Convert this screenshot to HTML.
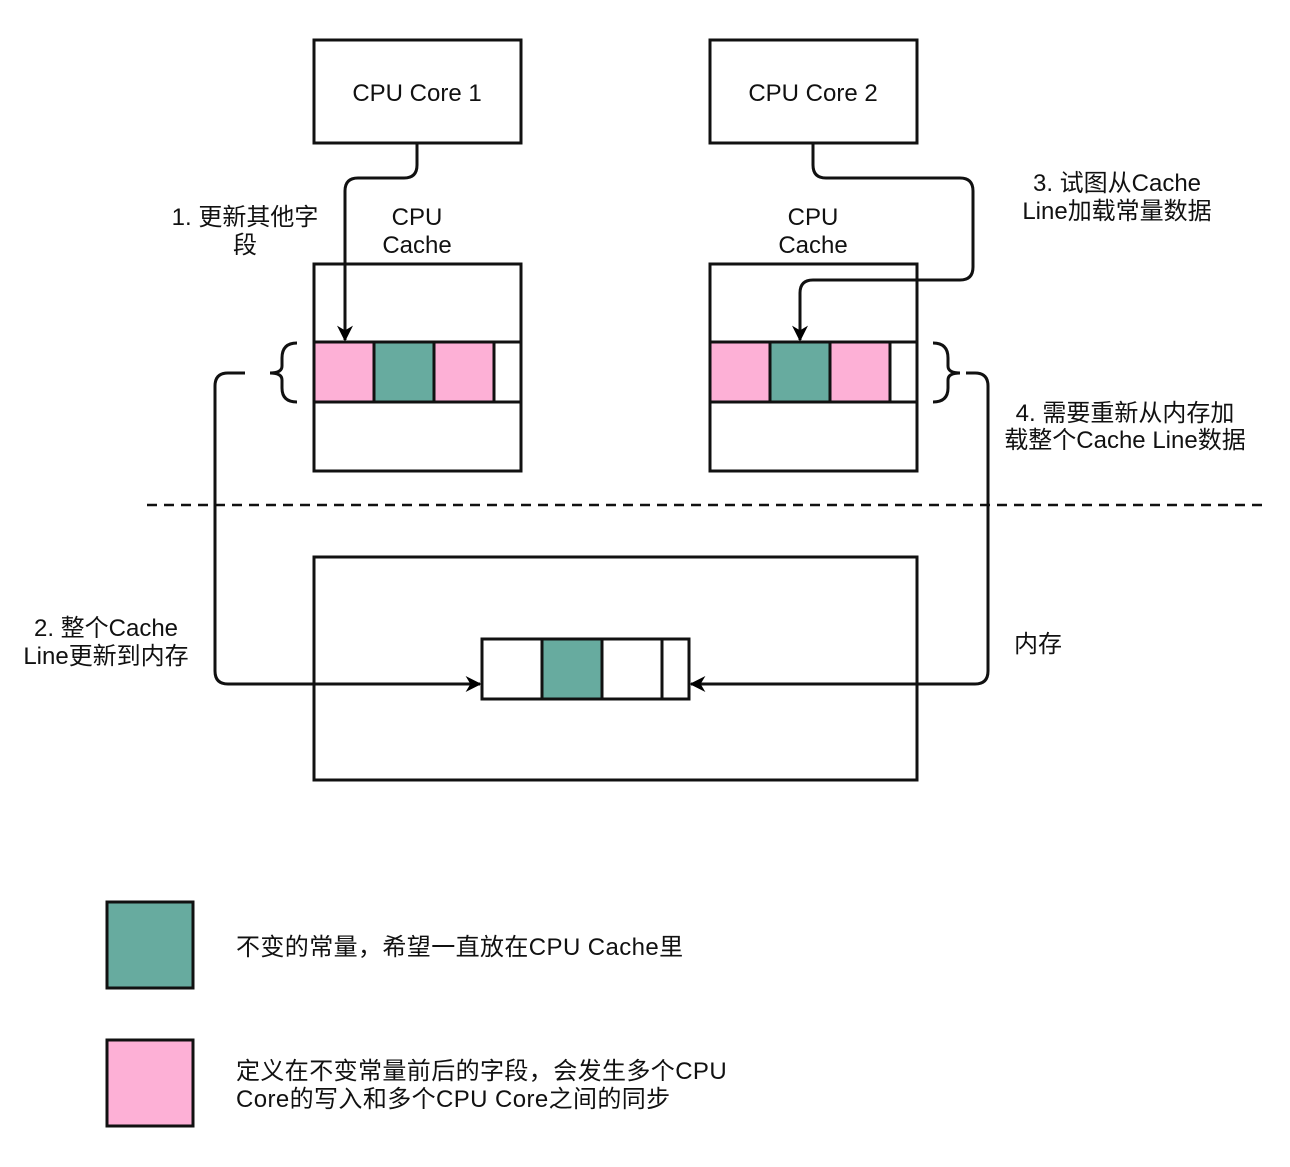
<!DOCTYPE html>
<html><head><meta charset="utf-8"><style>
body{margin:0;background:#fff;}
svg text{font-family:"Liberation Sans","Noto Sans CJK SC",sans-serif;font-size:24px;fill:#111;}
</style></head><body>
<svg width="1290" height="1162" xmlns="http://www.w3.org/2000/svg">
<defs>
<marker id="b" viewBox="0 0 10 10" markerWidth="16" markerHeight="16" refX="9" refY="5" orient="auto" markerUnits="userSpaceOnUse"><path d="M0,0 L10,5 L0,10 L3,5 Z" fill="#000"/></marker></defs>
<g stroke="#111" stroke-width="3" fill="#fff">
<rect x="314" y="40" width="207" height="103"/>
<rect x="710" y="40" width="207" height="103"/>
<rect x="314" y="264" width="207" height="207"/>
<rect x="710" y="264" width="207" height="207"/>
<rect x="314" y="557" width="603" height="223"/>
<rect x="314" y="342" width="60" height="60" fill="#fdb0d6"/>
<rect x="374" y="342" width="60" height="60" fill="#67ab9f"/>
<rect x="434" y="342" width="60" height="60" fill="#fdb0d6"/>
<rect x="494" y="342" width="27" height="60"/>
<rect x="710" y="342" width="60" height="60" fill="#fdb0d6"/>
<rect x="770" y="342" width="60" height="60" fill="#67ab9f"/>
<rect x="830" y="342" width="60" height="60" fill="#fdb0d6"/>
<rect x="890" y="342" width="27" height="60"/>
<rect x="482" y="639" width="60" height="60"/>
<rect x="542" y="639" width="60" height="60" fill="#67ab9f"/>
<rect x="602" y="639" width="60" height="60"/>
<rect x="662" y="639" width="27" height="60"/>
<rect x="107" y="902" width="86" height="86" fill="#67ab9f"/>
<rect x="107" y="1040" width="86" height="86" fill="#fdb0d6"/>
</g>
<g stroke="#111" stroke-width="3" fill="none">
<path d="M417,143 V165 Q417,178 404,178 H358 Q345,178 345,191 V340" marker-end="url(#b)"/>
<path d="M813,143 V165 Q813,178 826,178 H960 Q973,178 973,191 V267 Q973,280 960,280 H813 Q800,280 800,293 V340" marker-end="url(#b)"/>
<path d="M297,343 Q282,343 282,358 V366 Q282,373 270,373 Q282,373 282,380 V388 Q282,402 297,402"/>
<path d="M245,373 H228 Q215,373 215,386 V671 Q215,684 228,684 H480" marker-end="url(#b)"/>
<path d="M933,343 Q948,343 948,358 V366 Q948,373 960,373 Q948,373 948,380 V388 Q948,402 933,402"/>
<path d="M966,373 H975 Q988,373 988,386 V671 Q988,684 975,684 H691" marker-end="url(#b)"/>
<path d="M147,505 H1268" stroke-width="2.5" stroke-dasharray="10,7"/>
</g>
<g text-anchor="middle">
<text x="417" y="101">CPU Core 1</text>
<text x="813" y="101">CPU Core 2</text>
<text x="417" y="225">CPU</text><text x="417" y="253">Cache</text>
<text x="813" y="225">CPU</text><text x="813" y="253">Cache</text>
<text x="245" y="225">1. 更新其他字</text><text x="245" y="253">段</text>
<text x="1117" y="191">3. 试图从Cache</text><text x="1117" y="219">Line加载常量数据</text>
<text x="1125" y="421">4. 需要重新从内存加</text><text x="1125" y="448">载整个Cache Line数据</text>
<text x="106" y="636">2. 整个Cache</text><text x="106" y="664">Line更新到内存</text>
<text x="1038" y="652">内存</text>
</g>
<text x="236" y="955" letter-spacing="0.4">不变的常量，希望一直放在CPU Cache里</text>
<text x="236" y="1079" letter-spacing="0.4">定义在不变常量前后的字段，会发生多个CPU</text>
<text x="236" y="1107" letter-spacing="0.4">Core的写入和多个CPU Core之间的同步</text>
</svg>
</body></html>
